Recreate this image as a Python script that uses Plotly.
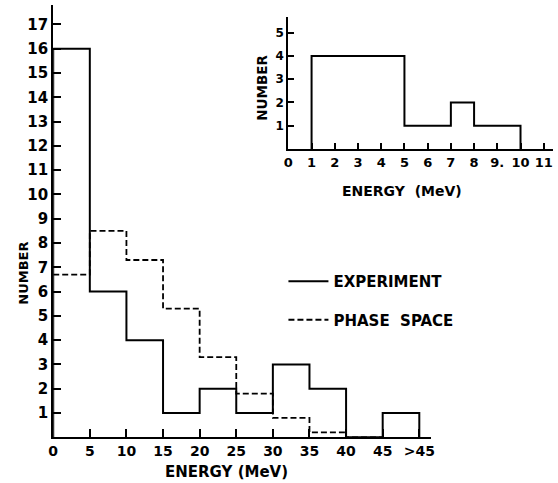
import plotly.graph_objects as go

# ---- data ----
main_edges = [0, 5, 10, 15, 20, 25, 30, 35, 40, 45, 50]
experiment = [16, 6, 4, 1, 2, 1, 3, 2, 0, 1]
phase_edges = [0, 5, 10, 15, 20, 25, 30, 35, 40, 45]
phase_space = [6.7, 8.5, 7.3, 5.3, 3.3, 1.8, 0.8, 0.2, 0]
main_xticks = [0, 5, 10, 15, 20, 25, 30, 35, 40, 45, 50]
main_xlabels = ["0", "5", "10", "15", "20", "25", "30", "35", "40", "45", ">45"]
main_yticks = list(range(1, 18))

inset_edges = [1, 5, 7, 8, 10]
inset_counts = [4, 1, 2, 1]
inset_xticks = list(range(0, 12))
inset_xlabels = ["0", "1", "2", "3", "4", "5", "6", "7", "8", "9.", "10", "11"]
inset_yticks = [1, 2, 3, 4, 5]

W, H = 558, 483
FONT = "DejaVu Sans"


def step(edges, vals, start_zero=True):
    xs = [edges[0]] if start_zero else []
    ys = [0] if start_zero else []
    for i, v in enumerate(vals):
        xs += [edges[i], edges[i + 1]]
        ys += [v, v]
    xs.append(edges[-1])
    ys.append(0)
    return xs, ys


fig = go.Figure()

ex, ey = step(main_edges, experiment)
fig.add_trace(go.Scatter(x=ex, y=ey, mode="lines", name="EXPERIMENT",
                         line=dict(color="black", width=2),
                         legendgroup="a", xaxis="x", yaxis="y"))
px_, py_ = step(phase_edges, phase_space, start_zero=False)
fig.add_trace(go.Scatter(x=px_, y=py_, mode="lines", name="PHASE  SPACE",
                         line=dict(color="black", width=1.8, dash="6px,3px"),
                         legendgroup="b", xaxis="x", yaxis="y"))
ix, iy = step(inset_edges, inset_counts)
fig.add_trace(go.Scatter(x=ix, y=iy, mode="lines", showlegend=False,
                         line=dict(color="black", width=2),
                         xaxis="x2", yaxis="y2"))


def px(x):
    return x / W


def py(y):
    return 1 - y / H


common = dict(showline=True, linecolor="black", linewidth=2, ticks="inside",
              tickcolor="black", tickwidth=2, showgrid=False, zeroline=False,
              tickfont=dict(family=FONT, size=14, color="black", weight="bold"))

fig.update_layout(
    width=W, height=H,
    margin=dict(l=0, r=0, t=0, b=0),
    paper_bgcolor="white", plot_bgcolor="white",
    xaxis=dict(domain=[px(49), px(433)], range=[0, 51.6], anchor="y",
               tickvals=main_xticks, ticktext=main_xlabels, ticklen=8,
               **common),
    yaxis=dict(domain=[py(437.3), py(5)], range=[0, 17.8], anchor="x",
               tickvals=main_yticks, ticklen=8,
               **{**common, "tickfont": dict(family=FONT, size=15, color="black", weight="bold")}),
    xaxis2=dict(domain=[px(288), px(557)], range=[0, 11.4], anchor="y2",
                tickvals=inset_xticks, ticktext=inset_xlabels, ticklen=6,
                **{**common, "tickfont": dict(family=FONT, size=13, color="black", weight="bold")}),
    yaxis2=dict(domain=[py(149), py(17)], range=[0, 5.67], anchor="x2",
                tickvals=inset_yticks, ticklen=6,
                **{**common, "tickfont": dict(family=FONT, size=12, color="black", weight="bold")}),
    showlegend=True,
    legend=dict(x=px(283), y=py(265), xanchor="left", yanchor="top",
                bgcolor="rgba(0,0,0,0)", traceorder="grouped", tracegroupgap=16,
                itemwidth=40,
                font=dict(family=FONT, size=15, color="black", weight="bold")),
)

fig.add_annotation(text="ENERGY (MeV)", x=px(225), y=py(472), xref="paper", yref="paper",
                   xanchor="center", yanchor="middle",
                   showarrow=False, font=dict(family=FONT, size=15, color="black", weight="bold"))
fig.add_annotation(text="NUMBER", x=px(18), y=py(273), xref="paper", yref="paper",
                   xanchor="center", yanchor="middle",
                   showarrow=False, textangle=-90,
                   font=dict(family=FONT, size=13, color="black", weight="bold"))
fig.add_annotation(text="ENERGY  (MeV)", x=px(404), y=py(191), xref="paper", yref="paper",
                   xanchor="center", yanchor="middle",
                   showarrow=False, font=dict(family=FONT, size=14, color="black", weight="bold"))
fig.add_annotation(text="NUMBER", x=px(261), y=py(88), xref="paper", yref="paper",
                   xanchor="center", yanchor="middle",
                   showarrow=False, textangle=-90,
                   font=dict(family=FONT, size=13.5, color="black", weight="bold"))

fig.write_html("out.html")
